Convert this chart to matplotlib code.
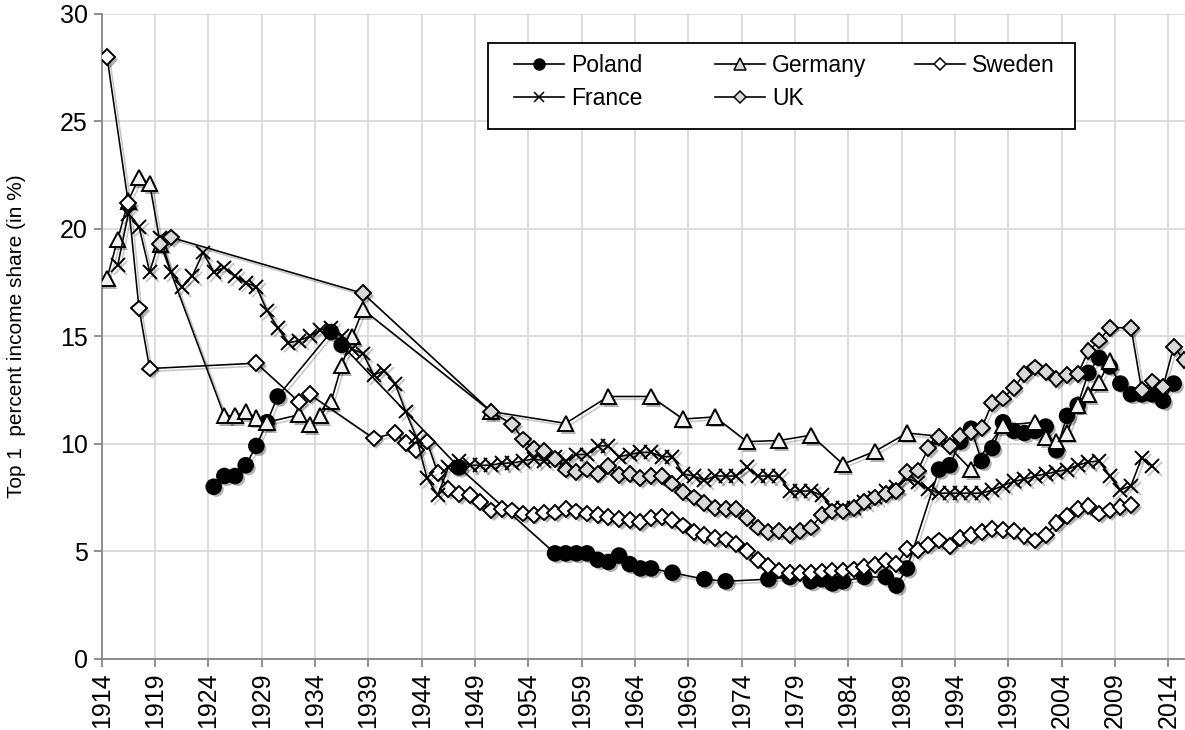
import numpy as np
import matplotlib
matplotlib.use("Agg")
import matplotlib.pyplot as plt
import matplotlib.patheffects as pe
from matplotlib.lines import Line2D
from matplotlib.patches import Rectangle

plt.rcParams['font.family'] = ['Liberation Sans', 'DejaVu Sans']

# ------- DADOS -------
anos_polonia = [1924, 1925, 1926, 1927, 1928, 1929, 1930, 1935, 1936, 1947,
                1956, 1957, 1958, 1959, 1960, 1961, 1962, 1963, 1964, 1965,
                1967, 1970, 1972, 1976, 1978, 1980, 1981, 1982, 1983, 1985,
                1987, 1988, 1989, 1992, 1993, 1994, 1995, 1996, 1997, 1998,
                1999, 2000, 2001, 2002, 2003, 2004, 2005, 2006, 2007, 2008,
                2009, 2010, 2011, 2012, 2013, 2014]
polonia = [8.0, 8.5, 8.5, 9.0, 9.9, 11.0, 12.2, 15.2, 14.6, 8.9,
           4.9, 4.9, 4.9, 4.9, 4.6, 4.5, 4.8, 4.4, 4.2, 4.2,
           4.0, 3.7, 3.6, 3.7, 3.8, 3.6, 3.7, 3.5, 3.6, 3.8,
           3.8, 3.4, 4.2, 8.8, 9.0, 10.1, 10.7, 9.2, 9.8, 11.0,
           10.6, 10.5, 10.6, 10.8, 9.7, 11.3, 11.8, 13.3, 14.0, 13.6,
           12.8, 12.3, 12.3, 12.3, 12.0, 12.8]

anos_alemanha = [1914, 1915, 1916, 1917, 1918, 1919, 1925, 1926, 1927, 1928,
                 1929, 1932, 1933, 1934, 1935, 1936, 1937, 1938, 1950, 1957,
                 1961, 1965, 1968, 1971, 1974, 1977, 1980, 1983, 1986, 1989,
                 1992, 1995, 1998, 2001, 2002, 2003, 2004, 2005, 2006, 2007,
                 2008]
alemanha = [17.7, 19.5, 21.3, 22.4, 22.1, 19.3, 11.3, 11.3, 11.5, 11.2,
            11.0, 11.35, 10.9, 11.3, 11.95, 13.65, 15.0, 16.25, 11.5, 10.95,
            12.2, 12.2, 11.15, 11.25, 10.1, 10.15, 10.4, 9.05, 9.65, 10.5,
            10.35, 8.8, 10.85, 11.0, 10.3, 10.1, 10.5, 11.8, 12.3, 12.85,
            13.85]

anos_suecia = [1914, 1916, 1917, 1918, 1928, 1932, 1933, 1939, 1941, 1942,
               1943, 1944] + list(range(1945, 2011))
suecia = [28.0, 21.2, 16.3, 13.5, 13.75, 11.95, 12.3, 10.25, 10.5, 10.05,
          9.7, 10.1,
          8.65, 7.9, 7.65, 7.6, 7.3, 6.9, 6.95, 6.9, 6.75, 6.7,
          6.8, 6.8, 6.95, 6.85, 6.75, 6.7, 6.6, 6.5, 6.45, 6.35,
          6.55, 6.6, 6.45, 6.2, 5.9, 5.75, 5.6, 5.55, 5.35, 5.0,
          4.6, 4.3, 4.1, 4.0, 4.0, 4.0, 4.05, 4.1, 4.1, 4.15,
          4.25, 4.35, 4.55, 4.4, 5.1, 5.05, 5.3, 5.5, 5.25, 5.6,
          5.75, 5.9, 6.05, 6.0, 5.95, 5.7, 5.5, 5.75, 6.3, 6.65,
          6.95, 7.1, 6.75, 6.9, 7.05, 7.15]

anos_franca = list(range(1915, 2013))
franca = [18.3, 20.7, 20.1, 18.0, 19.6, 18.0, 17.3, 17.8, 18.9, 18.0,
          18.2, 17.8, 17.5, 17.3, 16.2, 15.4, 14.7, 14.8, 15.0, 15.3,
          15.4, 15.0, 14.4, 14.2, 13.2, 13.4, 12.8, 11.5, 10.3, 8.4,
          7.6, 8.9, 9.2, 9.0, 9.0, 9.0, 9.1, 9.1, 9.2, 9.3,
          9.2, 9.4, 9.2, 9.5, 9.5, 9.9, 9.9, 9.4, 9.5, 9.6,
          9.6, 9.4, 9.4, 8.6, 8.5, 8.3, 8.5, 8.5, 8.5, 8.9,
          8.5, 8.5, 8.5, 7.8, 7.8, 7.8, 7.6, 7.0, 7.0, 7.0,
          7.3, 7.5, 7.8, 8.0, 8.4, 8.2, 7.9, 7.7, 7.7, 7.7,
          7.7, 7.7, 7.85, 8.05, 8.25, 8.35, 8.5, 8.6, 8.7, 8.8,
          9.0, 9.15, 9.2, 8.5, 7.85, 8.05, 9.35, 8.95]

anos_uk = [1919, 1920, 1938, 1950, 1952, 1953, 1954, 1955, 1956, 1957,
           1958, 1959, 1960, 1961, 1962, 1963, 1964, 1965, 1966, 1967,
           1968, 1969, 1970, 1971, 1972, 1973, 1974, 1975, 1976, 1977,
           1978, 1979, 1980, 1981, 1982, 1983, 1984, 1985, 1986, 1987,
           1988, 1989, 1990, 1991, 1992, 1993, 1994, 1995, 1996, 1997,
           1998, 1999, 2000, 2001, 2002, 2003, 2004, 2005, 2006, 2007,
           2008, 2010, 2011, 2012, 2013, 2014, 2015]
uk = [19.3, 19.6, 17.0, 11.5, 10.9, 10.2, 9.75, 9.65, 9.3, 8.8,
      8.7, 8.8, 8.6, 8.95, 8.55, 8.6, 8.4, 8.5, 8.5, 8.15,
      7.75, 7.5, 7.25, 7.0, 6.95, 6.95, 6.55, 6.1, 5.9, 5.95,
      5.75, 5.95, 6.1, 6.7, 6.85, 6.85, 7.0, 7.3, 7.5, 7.65,
      7.8, 8.7, 8.75, 9.8, 10.3, 9.9, 10.35, 10.55, 10.75, 11.9,
      12.1, 12.6, 13.25, 13.55, 13.35, 13.0, 13.2, 13.25, 14.3, 14.8,
      15.4, 15.4, 12.5, 12.9, 12.65, 14.5, 13.9]

rotulos_ano = list(range(1914, 2015, 5))

# ------- GRAFICO -------
fig = plt.figure(figsize=(11.85, 7.3), dpi=100)
ax = fig.add_axes([0.0858, 0.0977, 0.9142, 0.8832])

sombra_linha = [pe.SimpleLineShadow(offset=(2, -2), shadow_color='k', alpha=0.22), pe.Normal()]
sombra_cheia = [pe.SimplePatchShadow(offset=(2, -2), shadow_rgbFace='k', alpha=0.3), pe.Normal()]

# (anos, valores, marcador, tamanho, preenchimento, rotulo) na ordem das series
series = [
    (anos_polonia, polonia, 'o', 10.5, 'k', 'Poland'),
    (anos_alemanha, alemanha, '^', 11, '#f2f2f2', 'Germany'),
    (anos_suecia, suecia, 'D', 8, 'white', 'Sweden'),
    (anos_franca, franca, 'x', 10, 'k', 'France'),
    (anos_uk, uk, 'D', 8, '#d9d9d9', 'UK'),
]

proxies = {}
for i, (anos, vals, marca, tam, cor, nome) in enumerate(series):
    # eixo de categorias: cada ano fica no meio do seu intervalo
    x = np.array(anos) + 0.5
    z = 3 + i
    ax.plot(x, vals, '-', color='k', lw=1.15, zorder=z, path_effects=sombra_linha)
    efeito = sombra_linha if marca == 'x' else sombra_cheia
    ax.plot(x, vals, linestyle='none', marker=marca, ms=tam, mfc=cor, mec='k',
            mew=1.4, zorder=z + 0.5, path_effects=efeito)
    proxies[nome] = Line2D([], [], color='k', lw=1.2, marker=marca, ms=tam * 0.75,
                           mfc=('#d9d9d9' if nome == 'Germany' else cor), mec='k', mew=1.1)

ax.set_xlim(1914, 2015.56)
ax.set_ylim(0, 30)
ax.set_xticks(rotulos_ano)
ax.set_xticklabels([str(a) for a in rotulos_ano], rotation=90)
ax.set_yticks(range(0, 31, 5))

ax.grid(True, color='#d9d9d9', lw=1.3)
ax.set_axisbelow(True)
for lado in ['top', 'right']:
    ax.spines[lado].set_visible(False)
for lado in ['left', 'bottom']:
    ax.spines[lado].set_color('#868686')
    ax.spines[lado].set_linewidth(1.3)
ax.tick_params(axis='both', direction='out', length=6, width=1.3, color='#868686',
               labelsize=18, pad=4)

ax.set_ylabel('Top 1  percent income share (in %)', fontsize=15, labelpad=24)

# caixa da legenda (estilo Excel, colunas de largura fixa)
fig.patches.append(Rectangle((488 / 1185, 1 - 129 / 730), (1075 - 488) / 1185, 86 / 730,
                             transform=fig.transFigure, facecolor='white',
                             edgecolor='k', lw=1.3, zorder=19))
colunas = [(['Poland', 'France'], 514), (['Germany', 'UK'], 715), (['Sweden'], 915)]
for nomes, x0 in colunas:
    leg = fig.legend([proxies[n] for n in nomes], nomes, loc='upper left',
                     bbox_to_anchor=(x0 / 1185, 1 - 54 / 730), borderaxespad=0,
                     fontsize=16.5, frameon=False, handlelength=2.2, handletextpad=0.3,
                     labelspacing=0.45, borderpad=0)
    leg.set_zorder(20)

fig.savefig('out.png', dpi=100)
